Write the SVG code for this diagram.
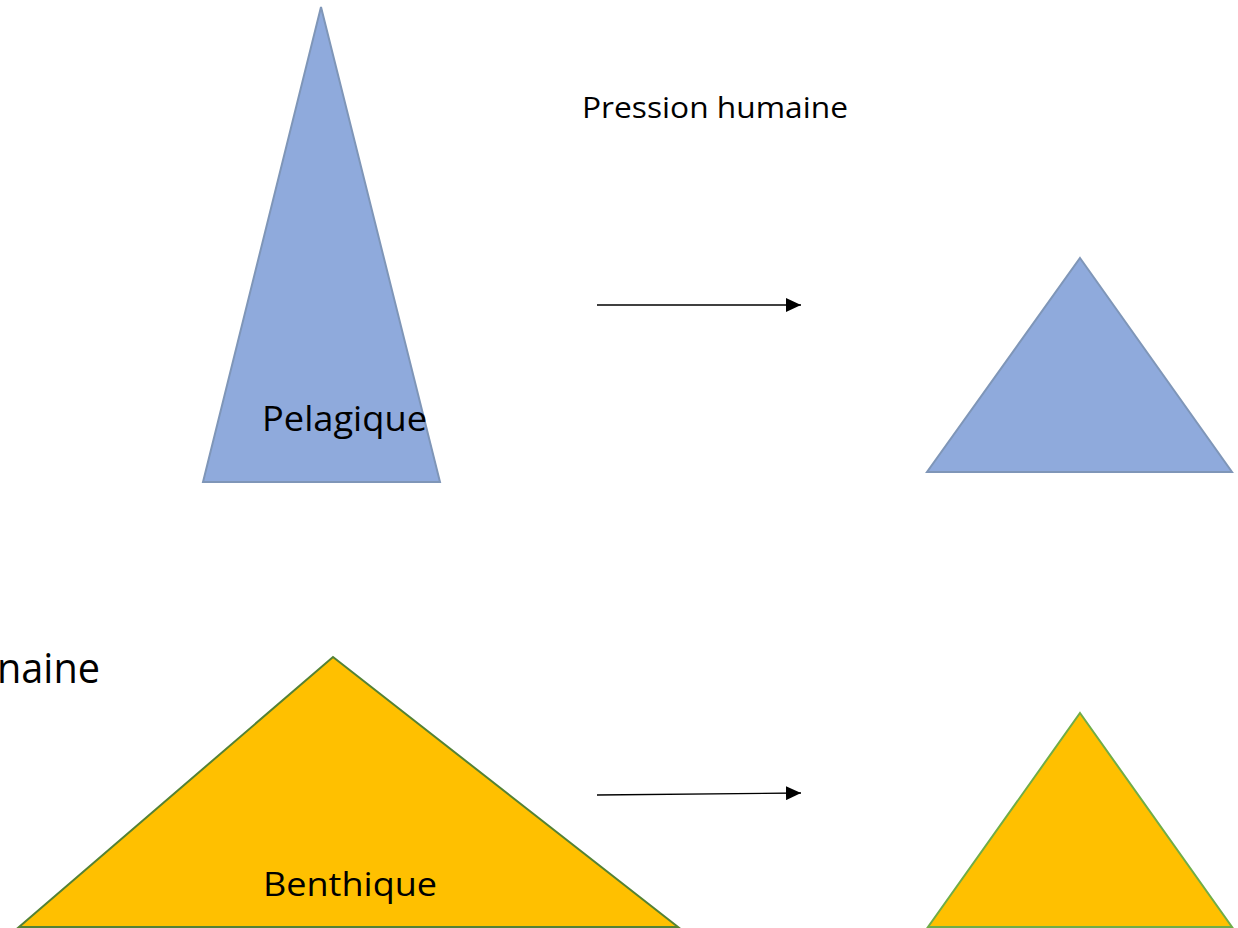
<svg xmlns="http://www.w3.org/2000/svg" width="1238" height="928" viewBox="0 0 1238 928">
<defs>
<marker id="ah" markerWidth="15" markerHeight="14" refX="15" refY="7" orient="auto" markerUnits="userSpaceOnUse" viewBox="0 0 15 14">
<path d="M0,0 L15,7 L0,14 Z" fill="#000"/>
</marker>
<style>
.lbl{font-family:"Open Sans","Noto Sans",sans-serif;fill:#000}
.blue{fill:#8faadc;stroke:#7f96b8;stroke-width:2}
.yel1{fill:#ffc000;stroke:#548235;stroke-width:2}
.yel2{fill:#ffc000;stroke:#70ad47;stroke-width:2}
.conn{stroke:#000;stroke-width:1.3;fill:none}
</style>
</defs>
<rect width="1238" height="928" fill="#fff"/>
<g id="pelagique">
<polygon class="blue" points="321,7 440,482 203,482"/>
<text class="lbl" x="262" y="431" font-size="34" textLength="165" lengthAdjust="spacingAndGlyphs">Pelagique</text>
</g>
<g id="pelagique-after">
<polygon class="blue" points="1080,258 1232,472 927,472"/>
</g>
<g id="benthique">
<polygon class="yel1" points="333,657 678,927 19,927"/>
<text class="lbl" x="263" y="896" font-size="32" textLength="174" lengthAdjust="spacingAndGlyphs">Benthique</text>
</g>
<g id="benthique-after">
<polygon class="yel2" points="1080,713 1232,927 928,927"/>
</g>
<g id="label-pression">
<text class="lbl" x="582" y="118" font-size="30" textLength="266" lengthAdjust="spacingAndGlyphs">Pression humaine</text>
</g>
<g id="label-naine">
<text class="lbl" x="-3" y="683" font-size="42" textLength="103" lengthAdjust="spacingAndGlyphs">naine</text>
</g>
<g id="connectors">
<line class="conn" x1="597" y1="305" x2="801" y2="305" marker-end="url(#ah)"/>
<line class="conn" x1="597" y1="795" x2="801" y2="793" marker-end="url(#ah)"/>
</g>
</svg>
